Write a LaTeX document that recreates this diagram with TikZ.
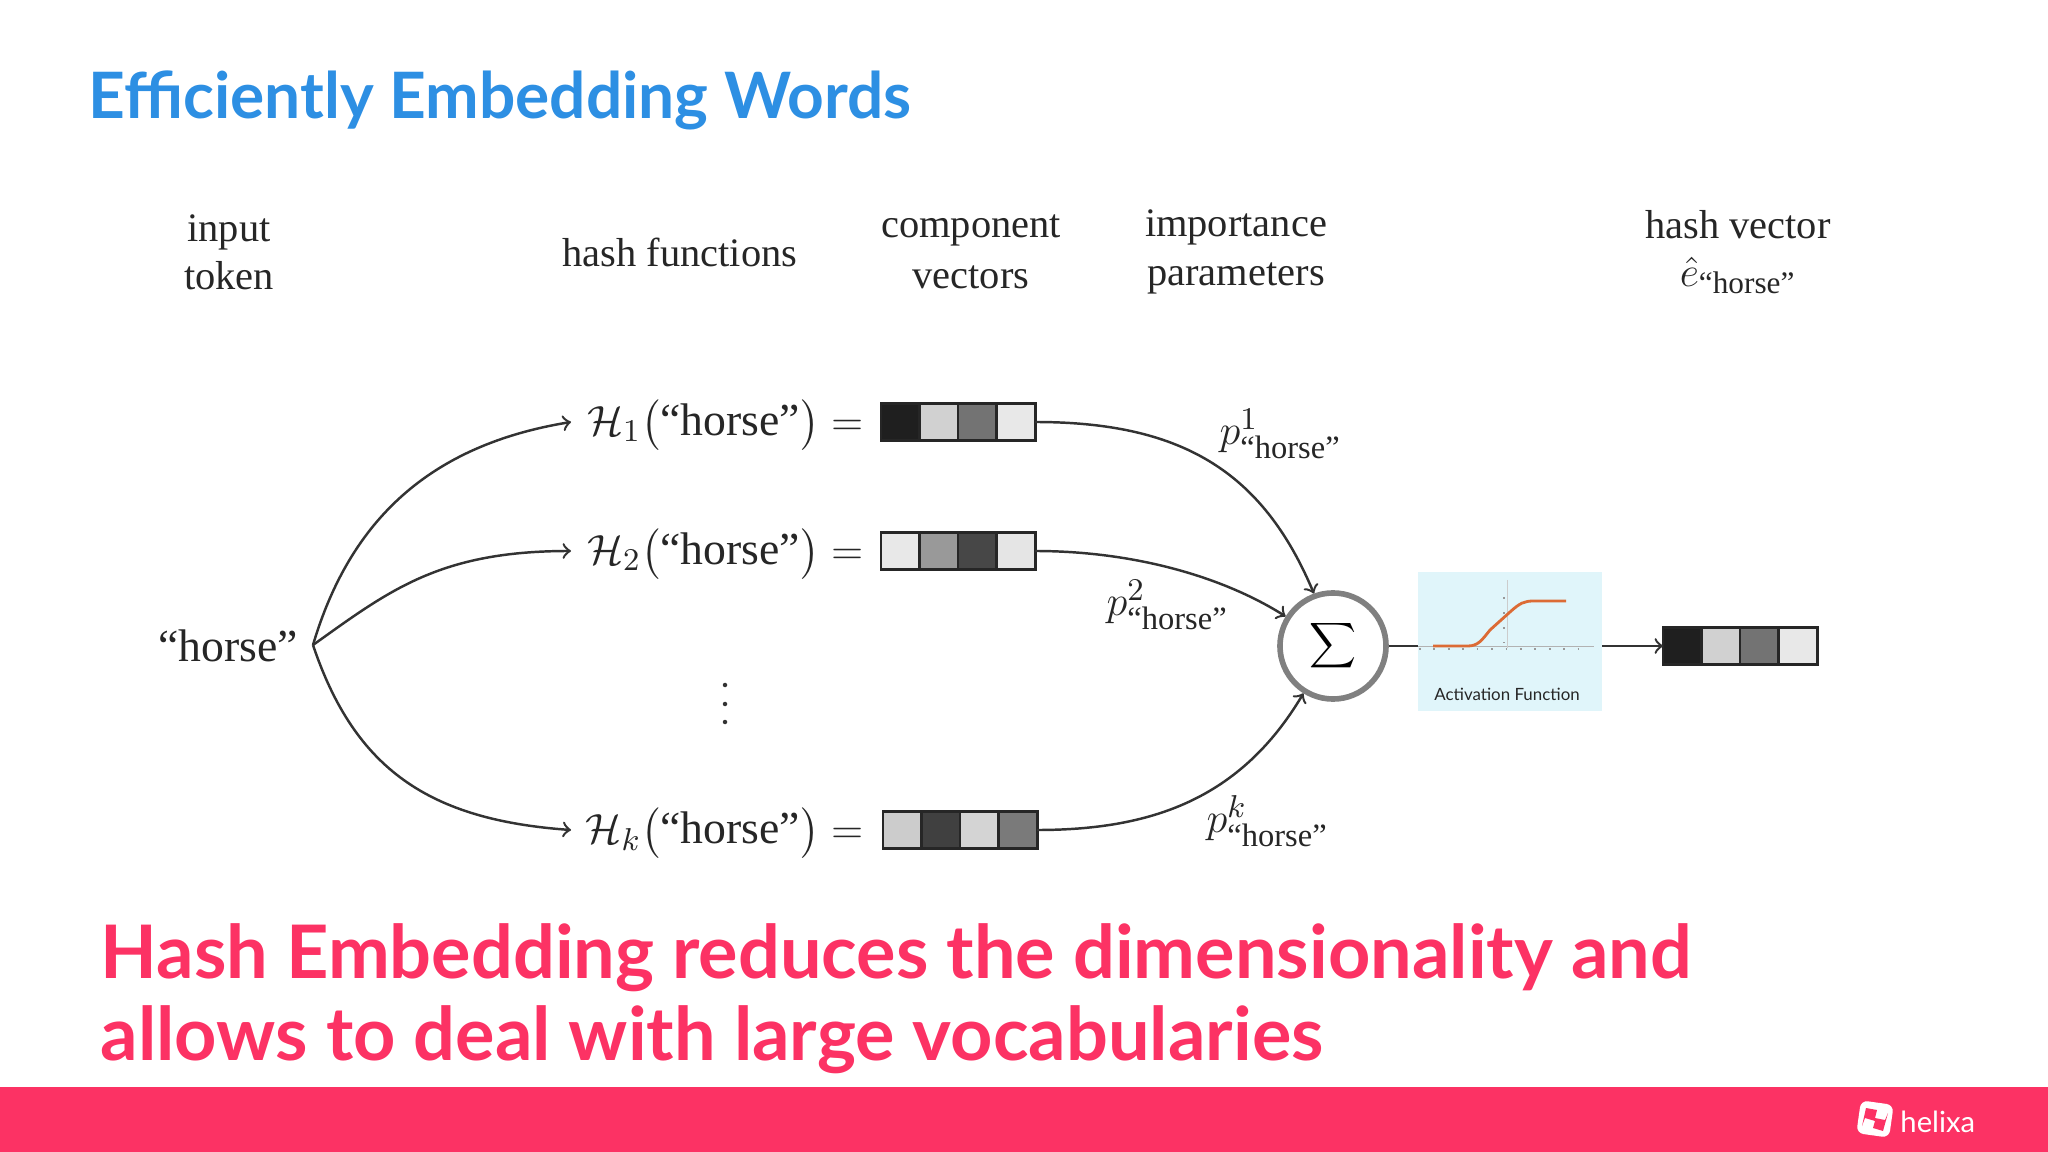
\documentclass[tikz,border=0pt]{standalone}
\usepackage{amsmath}
\usepackage{fontspec}
\setmainfont{Liberation Serif}
\newfontfamily\slidefont{Lato}
\usetikzlibrary{positioning}
\definecolor{slideblue}{HTML}{2D8FE3}
\definecolor{slidepink}{HTML}{FC3264}
\definecolor{boxblue}{HTML}{E0F5FA}
\definecolor{curveorange}{HTML}{DC6B35}
\definecolor{ringgray}{HTML}{808080}
\tikzset{
	label text/.style={font=\fontsize{11.5}{11.5}\selectfont,align=center,text=black!85},
	hash text/.style={font=\fontsize{13}{13}\selectfont,text=black!85,inner sep=0pt},
	weight text/.style={font=\fontsize{13.2}{13.2}\selectfont,text=black!85,inner sep=0pt,anchor=west},
	dot mark/.style={circle,fill=black!80,minimum size=0.045cm,inner sep=0pt},
	cell/.style={draw=black!85,line width=0.8pt,minimum width=0.385cm,minimum height=0.37cm,inner sep=0pt,outer sep=0pt},
	link/.style={draw=black!80,line width=0.7pt},
}
\newcommand{\horseword}{\text{``horse''}}
\begin{document}
\begin{tikzpicture}[x=0.01cm,y=-0.01cm,node distance=0pt and 0pt]
	\useasboundingbox (0,0) rectangle (2048,1152);
	\fill [slidepink] (0,1087) rectangle (2048,1152);

	\node [anchor=west,inner sep=0pt,font=\slidefont\bfseries\fontsize{18.2}{18.2}\selectfont,text=slideblue] (title) at (88,100) {Efficiently Embedding Words};
	\node [anchor=north west,inner sep=0pt,align=left,font=\slidefont\bfseries\fontsize{21}{23.3}\selectfont,text=slidepink] (claim) at (100,923) {Hash Embedding reduces the dimensionality and\\allows to deal with large vocabularies};

	\node [label text] (input) at (229,252) {input\\[2.2pt]token};
	\node [label text] (functions) at (680,252) {hash functions};
	\node [label text] (component) at (971,252) {component\\[3.1pt]vectors};
	\node [label text] (importance) at (1236,252) {importance\\[2.2pt]parameters};
	\node [label text] (hashvector) at (1738,252) {hash vector\\[2.2pt]{\fontsize{12.7}{12.7}\selectfont$\hat{e}_{\horseword}$}};

	\node [hash text] (horse) at (228,646) {\horseword};
	\node [hash text,anchor=east] (h1) at (864,425) {$\mathcal{H}_1\big(\horseword\big)=$};
	\node [hash text,anchor=east] (h2) at (864,554) {$\mathcal{H}_2\big(\horseword\big)=$};
	\node [hash text,anchor=east] (hk) at (864,833) {$\mathcal{H}_k\big(\horseword\big)=$};
	\node [dot mark] (dot1) at (725,685) {};
	\node [dot mark] (dot2) at (725,704) {};
	\node [dot mark] (dot3) at (725,722) {};
	\coordinate (fork) at (313,645);
	\coordinate (tip1) at (571,422);
	\coordinate (tip2) at (571,551);
	\coordinate (tipk) at (571,830);

	\node [cell,fill=black!88,anchor=west] (a1) at (881,422) {};
	\node [cell,fill=black!18,right=of a1] (a2) {};
	\node [cell,fill=black!55,right=of a2] (a3) {};
	\node [cell,fill=black!9,right=of a3] (a4) {};

	\node [cell,fill=black!9,anchor=west] (b1) at (881,551) {};
	\node [cell,fill=black!40,right=of b1] (b2) {};
	\node [cell,fill=black!72,right=of b2] (b3) {};
	\node [cell,fill=black!10,right=of b3] (b4) {};

	\node [cell,fill=black!20,anchor=west] (c1) at (883,830) {};
	\node [cell,fill=black!75,right=of c1] (c2) {};
	\node [cell,fill=black!17,right=of c2] (c3) {};
	\node [cell,fill=black!52,right=of c3] (c4) {};

	\node [cell,fill=black!88,anchor=west] (d1) at (1663,646) {};
	\node [cell,fill=black!18,right=of d1] (d2) {};
	\node [cell,fill=black!55,right=of d2] (d3) {};
	\node [cell,fill=black!9,right=of d3] (d4) {};

	\node [draw=ringgray,circle,line width=1.6pt,minimum size=1.06cm,inner sep=0pt,font=\fontsize{9}{9}\selectfont] (sum) at (1333,646) {$\displaystyle\sum$};

	\node [fill=boxblue,minimum width=1.84cm,minimum height=1.39cm,inner sep=0pt,outer sep=0pt] (activation) at (1510,641.5) {};
	\node [font=\fontsize{4.8}{4.8}\selectfont\slidefont,text=black!85,inner sep=0pt] (activationname) at (1507,694) {Activation Function};
	\draw [black!30,line width=0.2pt] (1418,646) -- (1594,646);
	\draw [black!20,line width=0.2pt] (1507,580) -- (1507,648);
	\draw [black!40,line width=0.3pt,dash pattern=on 0.5pt off 3.6pt] (1419,649) -- (1580,649);
	\draw [black!40,line width=0.3pt,dash pattern=on 0.5pt off 3.77pt] (1504,597) -- (1504,643);
	\draw [curveorange,line width=0.8pt] (1433,646) -- (1468,646) .. controls (1478,646) and (1482,640) .. (1490,630) -- (1510,612) .. controls (1520,603) and (1524,601) .. (1534,601) -- (1566,601);

	\draw [link,->] (fork) .. controls (350,520) and (430,445) .. (tip1);
	\draw [link,->] (fork) .. controls (390,590) and (440,551) .. (tip2);
	\draw [link,->] (fork) .. controls (355,770) and (430,820) .. (tipk);
	\draw [link,->] (a4.east) .. controls (1180,422) and (1262,470) .. (sum.110);
	\draw [link,->] (b4.east) .. controls (1130,551) and (1220,575) .. (sum.148);
	\draw [link,->] (c4.east) .. controls (1150,830) and (1240,800) .. (sum.-122);
	\draw [link] (sum) -- (activation.west |- sum);
	\draw [link,->] (activation.east |- sum) -- (d1);

	\node [weight text] (p1) at (1219,434) {$p^1_{\horseword}$};
	\node [weight text] (p2) at (1106,605) {$p^2_{\horseword}$};
	\node [weight text] (pk) at (1206,821) {$p^k_{\horseword}$};

	\node [fill=white,rounded corners=2pt,rotate=-8,minimum size=0.33cm,inner sep=0pt] (logo) at (1875,1119) {};
	\node [font=\slidefont\fontsize{8.3}{8.3}\selectfont,text=white,right=-0.04cm of logo] (helixa) {helixa};
	\fill [slidepink] (1866,1108) -- (1877,1110) -- (1875,1118) -- (1885,1120) -- (1888,1113) -- (1883,1131) -- (1873,1128) -- (1875,1121) -- (1865,1118) -- (1862,1126) -- cycle;
\end{tikzpicture}
\end{document}
